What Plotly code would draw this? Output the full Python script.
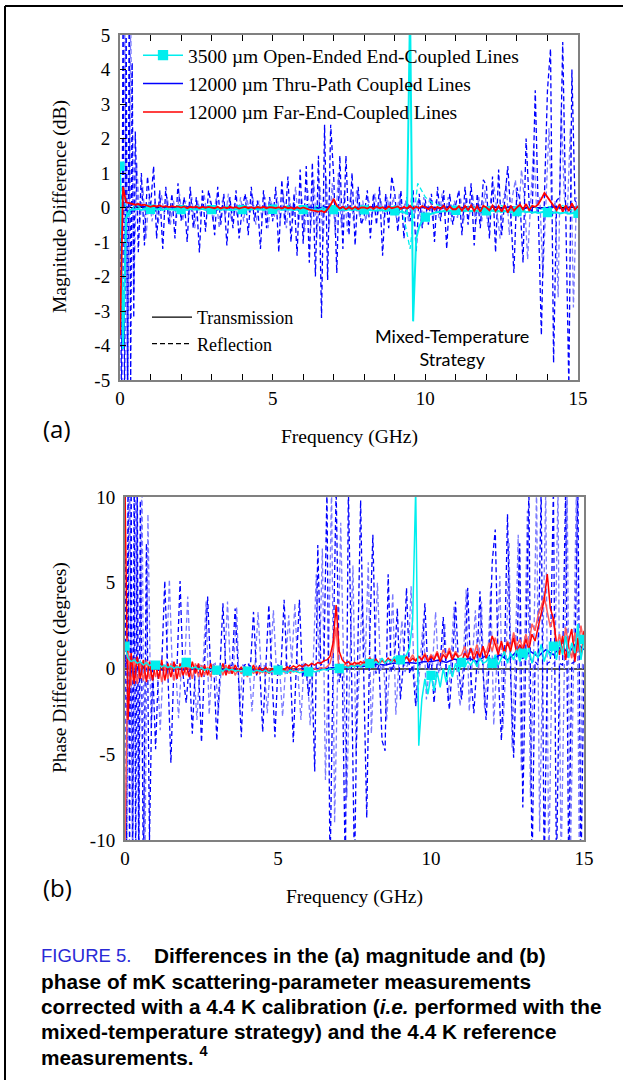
import numpy as np
import plotly.graph_objects as go

# ================= DATA =================
# ---- Panel (a): magnitude difference (dB) ----
# dark-blue reflection, dense low-frequency part (0 .. 0.45 GHz, step 0.05)
A_BLUE_R1_LO = [1.2, -6, 6, -6, 6, -6, 6, -5, 4.2, -3.2]
# dark-blue reflection (0.5 .. 15.0 GHz, step 0.1)
A_BLUE_R1 = [2.2, -1.3, 1.0, -1.1, 0.9, 0.0, 1.2, -0.9, 0.5, -1.2,
             0.6, -0.5, 0.4, -0.9, 0.7, -0.38, 0.3, -1.0, 0.6, -0.6,
             0.3, -1.3, 0.5, -0.7, 0.5, 0.05, -0.8, 0.6, -0.5, 0.4,
             -1.1, 0.3, -0.6, 0.5, -0.9, -0.05, 0.4, -0.8, 0.6, -0.4,
             0.2, -1.2, 0.5, -0.6, 0.3, -0.4, 0.6, -1.3, 0.8, -0.5,
             0.9, -1.0, 0.4, -1.4, 1.1, -1.05, 1.2, -1.6, 1.3, -2.0,
             1.5, -3.2, 2.4, -2.1, 2.4, 0.88, -1.9, 1.5, -1.2, 1.5,
             -0.8, 1.0, -1.1, 0.6, -0.5, -0.23, 0.5, -0.9, 0.4, -0.5,
             0.6, -1.4, 0.4, -0.6, 0.9, 0.4, -0.7, 0.5, -0.9, 0.3,
             -0.4, 0.5, -1.3, 0.4, -0.6, 0.23, -0.5, 0.4, -1.0, 0.6,
             -0.4, 0.5, -1.2, 0.4, -0.5, 0.1, 0.5, -0.8, 0.6, -0.5,
             0.7, -1.1, 0.4, -0.6, 0.8, 0.64, -0.9, 0.9, -1.3, 1.1,
             -0.8, 0.3, 1.2, -0.2, -1.9, 0.58, 0.2, -1.6, 2.0, 0.1,
             -0.2, 3.4, -0.3, -3.7, 0.3, 3.4, 4.6, -4.5, 0.2, 0.3,
             4.8, -0.3, -5.2, 4.0, 0.2, 0.1]
# light-blue reflection (0.05 .. 14.95 GHz, step 0.1)
A_BLUE_R2 = [-6, 6, -6, 5.5, -2.5, 1.3, -0.5, 0.6, -0.9, 0.3,
             -0.4, 0.2, -0.5, 0.4, -0.2, 0.3, -0.5, 0.2, -0.3, 0.4,
             -0.4, 0.2, -0.3, 0.3, -0.6, 0.2, -0.3, 0.4, -0.2, 0.2,
             -0.4, 0.3, -0.6, 0.2, -0.3, 0.4, -0.4, 0.1, -0.3, 0.3,
             -0.4, 0.3, -0.2, 0.3, -0.5, 0.2, -0.3, 0.3, -0.6, 0.2,
             -0.3, 0.3, -0.4, 0.4, -0.6, 0.3, -0.4, 0.6, -0.5, 0.3,
             -0.7, 0.5, -0.6, 0.8, -0.9, 0.6, -1.0, 0.9, -0.6, 0.7,
             -0.8, 1.0, -0.6, 0.5, -0.7, 0.4, -0.4, 0.5, -0.3, 0.2,
             -0.4, 0.2, -0.3, 0.4, -0.2, 0.2, -0.4, 0.3, -0.2, 0.3,
             -0.3, 0.4, -0.2, 0.2, -0.4, 0.3, -0.2, 0.2, -0.4, 0.3,
             -0.2, 0.3, -0.4, 0.2, -0.3, 0.4, -0.2, 0.3, -0.4, 0.2,
             -0.3, 0.3, -0.4, 0.3, -0.2, 0.4, -0.5, 0.3, -0.4, 0.5,
             -0.6, 0.3, 0.6, -0.2, -0.9, 0.2, 0.7, -0.8, 0.3, 0.8,
             -0.3, 1.1, 0.2, -1.5, 0.3, 1.8, -0.2, 0.3, -2.0, 0.2,
             2.3, -0.3, 0.2, -2.6, 2.9, 0.3, -0.2, 2.3, -2.9, 0.3]
# blue transmission (0 .. 15 GHz, step 0.25)
A_BLUE_T = [0.4, -0.15, 0.05, 0.02, 0.0, -0.02, 0.01, -0.01, 0.0, 0.02,
            -0.01, 0.01, 0.0, -0.02, 0.01, -0.01, 0.0, 0.01, -0.02, 0.01,
            0.0, -0.01, 0.02, -0.02, 0.0, 0.01, -0.02, 0.02, 0.0, -0.01,
            0.01, -0.02, 0.0, 0.02, -0.01, 0.01, 0.0, -0.02, 0.02, -0.01,
            0.0, 0.01, -0.03, 0.02, 0.0, -0.02, 0.03, -0.02, 0.0, 0.02,
            -0.03, 0.02, 0.0, -0.03, 0.03, -0.02, 0.0, 0.03, -0.04, 0.02, 0.0]
# red transmission (0 .. 15 GHz, step 0.1)
A_RED_T = [-3.7,
           0.6, 0.15, 0.12, 0.1, 0.08, 0.1, 0.06, 0.08, 0.05, 0.02,
           0.05, 0.03, 0.06, 0.02, 0.04, 0.01, 0.04, 0.02, 0.03, 0.0,
           0.03, -0.02, 0.02, 0.0, 0.03, -0.02, 0.02, -0.01, 0.02, 0.0,
           -0.02, 0.02, -0.03, 0.01, -0.02, 0.02, -0.01, 0.01, -0.03, 0.0,
           0.02, -0.02, 0.01, -0.03, 0.02, -0.01, 0.02, -0.02, 0.01, 0.0,
           -0.02, 0.01, -0.03, 0.02, -0.02, 0.0, -0.04, 0.01, -0.03, 0.0,
           -0.04, -0.06, -0.08, -0.1, -0.12, -0.1, -0.14, -0.05, 0.08, 0.25,
           0.05, -0.03, 0.02, -0.05, 0.01, -0.04, 0.02, -0.05, 0.0, 0.0,
           -0.03, 0.02, -0.04, 0.03, -0.02, 0.01, -0.05, 0.03, -0.02, 0.0,
           0.03, -0.04, 0.02, -0.03, 0.05, -0.04, 0.03, -0.02, 0.04, 0.0,
           -0.05, 0.03, -0.06, 0.02, -0.04, 0.05, -0.08, 0.03, -0.05, -0.05,
           0.04, -0.09, 0.05, -0.07, 0.06, -0.1, 0.04, -0.12, 0.05, 0.0,
           -0.08, 0.06, -0.1, 0.04, -0.12, 0.07, -0.15, 0.05, -0.1, 0.0,
           0.08, -0.06, 0.1, -0.08, 0.05, 0.02, 0.1, 0.25, 0.42, 0.3,
           0.18, 0.05, -0.08, 0.1, -0.12, 0.06, -0.1, 0.12, -0.06, 0.04]
# cyan transmission (0 .. 15 GHz, step 0.1)
A_CYAN_T = [1.2, -4.1, -0.3, -0.1, -0.05,
            -0.06, -0.04, -0.07, -0.05, -0.06, -0.05,
            -0.04, -0.06, -0.05, -0.07, -0.04, -0.06, -0.05, -0.08, -0.05, -0.06,
            -0.05, -0.07, -0.04, -0.06, -0.05, -0.06, -0.04, -0.07, -0.05, -0.06,
            -0.05, -0.04, -0.07, -0.05, -0.06, -0.05, -0.08, -0.05, -0.04, -0.06,
            -0.07, -0.05, -0.06, -0.04, -0.06, -0.05, -0.07, -0.05, -0.06, -0.05,
            -0.06, -0.04, -0.07, -0.05, -0.06, -0.05, -0.07, -0.06, -0.05, -0.06,
            -0.07, -0.05, -0.08, -0.06, -0.07, -0.05, -0.08, -0.06, -0.07, -0.06,
            -0.05, -0.07, -0.06, -0.08, -0.05, -0.07, -0.06, -0.08, -0.06, -0.07,
            -0.06, -0.08, -0.07, -0.09, -0.07, -0.08, -0.1, -0.08, -0.09, -0.1,
            -0.11, -0.12, -0.14, -0.18, 5.8, -3.3, -0.9, -0.55, -0.38, -0.28,
            -0.22, -0.18, -0.15, -0.13, -0.12, -0.1, -0.11, -0.09, -0.1, -0.08,
            -0.09, -0.08, -0.1, -0.09, -0.11, -0.08, -0.1, -0.12, -0.09, -0.1,
            -0.11, -0.09, -0.12, -0.1, -0.13, -0.1, -0.12, -0.14, -0.11, -0.12,
            -0.13, -0.11, -0.14, -0.12, -0.15, -0.13, -0.16, -0.14, -0.12, -0.15,
            -0.14, -0.16, -0.13, -0.17, -0.15, -0.14, -0.18, -0.16, -0.15, -0.17]
# cyan reflection (0 .. 15 GHz, step 0.25)
A_CYAN_R = [0.8, -0.3, 0.1, -0.05, 0.05, -0.04, 0.03, -0.05, 0.04, -0.03,
            0.05, -0.04, 0.03, -0.05, 0.04, -0.03, 0.05, -0.06, 0.04, -0.05,
            0.03, -0.04, 0.05, -0.06, 0.04, -0.05, 0.06, -0.04, 0.05, -0.06,
            0.04, -0.05, 0.05, -0.07, 0.04, -0.06, 0.05, -0.08, -1.2, 0.7,
            0.3, 0.12, 0.05, -0.06, 0.04, -0.07, 0.05, -0.06, 0.04, -0.08,
            0.06, -0.07, 0.05, -0.09, 0.06, -0.08, 0.05, -0.1, 0.06, -0.09, 0.05]

# ---- Panel (b): phase difference (degrees) ----
B_BLUE_R1_LO = [12, -12, 12, -12, 12, -12, 12, -12, 12, -12]
B_BLUE_R1 = [9.8, -12, 7.3, -10, 0.4,
             -4.7, 0.3, 0.2, 5.1, -0.3,
             -5.5, 0.3, 0.1, 5.1, -0.4,
             -2.0, 0.3, -3.8, 0.2, 0.1,
             -4.3, 0.3, 4.2, -0.2, 0.2,
             -4.2, 0.3, 3.8, -0.3, 0.1,
             0.2, 3.5, -0.2, -4.0, 0.2,
             0.3, 0.1, 3.3, -0.4, 0.2,
             -3.7, 0.3, 3.7, -0.3, -4.0,
             0.2, 0.1, 4.0, -0.3, 0.2,
             -4.3, 0.2, 4.0, -0.5, 0.3,
             -1.6, 0.3, -6.0, 7.2, 0.2,
             0.3, 10.5, -12, 0.4, 10.5,
             -0.8, 0.2, -12, 10.5, 0.3,
             -12, 0.3, 9.8, -0.2, -8.7,
             2.0, 7.8, -0.3, 0.2, -4.2,
             -4.8, 5.5, -0.2, 0.3, 3.5,
             -1.8, 0.3, 4.7, -0.3, 0.2,
             -2.2, 0.3, 0.2, 3.8, -0.3,
             0.8, -2.0, 0.3, 0.2, 3.0,
             -0.3, -2.4, 0.3, 3.9, 0.2,
             -1.8, 0.3, 4.7, -0.4, -2.6,
             0.3, 4.5, -0.2, -3.0, 0.3,
             6.2, 8.1, -0.3, -4.2, 0.4,
             9.0, -0.3, -5.2, 0.4, 7.3,
             -8.1, 0.3, 10.5, -12, 0.4,
             0.2, 10.5, -12, 0.3, 0.4,
             10.5, -12, 0.3, 0.2, 10.5,
             -12, 0.3, 0.4, 10.5, -12,
             0.3]
B_BLUE_R2 = [-12, 12, -12, 12, -12,
             12, -12, 9.0, -3.5, 0.3,
             0.2, -3.6, 0.2, 0.1, 5.2,
             -0.3, 0.2, -2.9, 0.3, 0.2,
             4.2, -0.2, 0.1, -3.0, 0.2,
             0.1, 3.9, -2.7, 0.2, 0.3,
             -2.6, 0.2, 0.1, 3.9, -0.3,
             0.2, 3.6, -2.4, 0.2, 0.1,
             0.3, -2.5, 0.2, 3.3, -0.2,
             0.2, -2.6, 0.3, 3.4, -0.2,
             0.1, -2.8, 0.2, 3.1, 0.3,
             3.8, -0.2, -3.0, 0.3, 0.2,
             -3.3, 0.3, 5.5, -0.3, 7.0,
             -6.5, 0.3, 10.5, -9.0, 0.3,
             8.5, -0.3, -7.5, 0.3, 6.0,
             -5.0, 0.2, 4.3, 0.3, 6.2,
             -3.8, 0.3, 5.0, -0.2, 0.3,
             -3.0, 0.2, 4.4, -2.7, 0.3,
             2.8, -0.2, 0.3, 4.8, -0.3,
             -2.0, 0.2, 2.9, -1.8, 0.3,
             0.2, 3.3, -0.3, 0.2, 2.6,
             -1.9, 0.3, 3.6, -0.2, -2.2,
             0.2, 4.6, -2.5, 0.3, 3.4,
             -0.3, 3.9, -2.4, 0.2, 4.8,
             -3.3, 0.3, 5.4, -3.5, 0.3,
             7.4, -4.6, 0.3, 7.8, -6.0,
             0.3, 9.2, -7.5, 0.4, 10.5,
             -9.5, 0.3, 10.5, -12, 0.2,
             0.4, 10.5, -12, 0.3, 10.5,
             -12, 0.2, 10.5, -12, 0.3]
B_BLUE_T = [0.5, -0.3, 0.2, -0.1, 0.0, -0.1, 0.05, -0.05, 0.0, -0.05,
            0.05, -0.05, 0.0, -0.05, 0.0, -0.05, -0.05, -0.1, -0.05, -0.1,
            -0.1, -0.05, -0.1, -0.05, -0.05, 0.0, -0.05, 0.05, 0.05, 0.1,
            0.15, 0.1, 0.2, 0.25, 0.2, 0.3, 0.3, 0.35, 0.3, 0.4,
            0.4, 0.5, 0.35, 0.55, 0.45, 0.6, 0.4, 0.7, 0.5, 0.8,
            0.5, 0.9, 0.6, 1.0, 0.7, 1.1, 0.8, 1.3, 0.9, 1.5, 1.1]
B_RED_T1 = [10.5,
            -3.0, 0.9, -0.9, 0.7, -0.6, 0.5, -0.8, 0.4, -0.7, 0.3,
            -0.6, 0.5, -0.7, 0.3, -0.5, 0.4, -0.6, 0.3, -0.4, 0.2,
            -0.5, 0.4, -0.3, 0.3, -0.5, 0.2, -0.4, 0.3, -0.3, 0.1,
            -0.3, 0.3, -0.4, 0.2, -0.3, 0.2, -0.2, 0.1, -0.3, 0.0,
            -0.2, 0.2, -0.3, 0.1, -0.2, 0.1, -0.3, 0.0, -0.1, 0.0,
            0.05, -0.1, 0.1, 0.0, 0.15, 0.05, 0.2, 0.1, 0.25, 0.15,
            0.3, 0.2, 0.35, 0.3, 0.45, 0.5, 0.7, 1.5, 3.7, 1.0,
            0.5, 0.3, 0.4, 0.2, 0.35, 0.25, 0.4, 0.3, 0.45, 0.6,
            0.4, 0.55, 0.3, 0.5, 0.35, 0.6, 0.4, 0.5, 0.3, 0.6,
            0.5, 0.7, 0.4, 0.6, 0.45, 0.7, 0.5, 0.8, 0.4, 0.7,
            0.5, 0.9, 0.4, 0.8, 0.6, 1.0, 0.5, 0.9, 0.6, 0.35,
            0.9, 0.6, 1.2, 0.5, 1.0, 0.7, 1.3, 0.6, 1.1, 1.9,
            1.4, 0.8, 1.6, 0.9, 1.5, 1.0, 1.8, 0.9, 1.4, 1.05,
            1.7, 1.1, 2.0, 1.6, 2.4, 3.2, 4.0, 5.5, 3.5, 2.9,
            1.5, 0.8, 1.9, 0.5, 1.6, 2.3, 0.4, 1.8, 0.6, 2.2]
B_RED_T2 = [-10.5,
            1.2, -1.0, 0.6, -0.9, 0.4, -0.7, 0.5, -0.6, 0.3, -0.5,
            0.4, -0.8, 0.2, -0.6, 0.3, -0.7, 0.2, -0.5, 0.3, -0.4,
            0.2, -0.6, 0.3, -0.5, 0.2, -0.4, 0.1, -0.5, 0.2, -0.35,
            0.1, -0.4, 0.2, -0.3, 0.1, -0.4, 0.0, -0.3, 0.1, -0.5,
            0.0, -0.3, 0.1, -0.3, -0.1, -0.3, 0.0, -0.2, -0.1, -0.35,
            -0.1, -0.2, 0.0, -0.25, -0.05, -0.2, 0.0, -0.15, -0.05, -0.35,
            -0.1, 0.0, -0.1, 0.05, 0.0, 0.1, 0.3, 1.0, 2.4, -0.3,
            0.1, 0.25, 0.1, 0.3, 0.15, 0.35, 0.2, 0.4, 0.3, 0.64,
            0.35, 0.5, 0.25, 0.45, 0.3, 0.55, 0.35, 0.6, 0.4, 0.64,
            0.4, 0.65, 0.5, 0.8, 0.45, 0.7, 0.55, 0.9, 0.5, 0.8,
            0.6, 1.0, 0.5, 1.1, 0.7, 1.2, 0.6, 1.0, 0.7, 0.8,
            1.3, 0.7, 1.1, 0.8, 1.4, 0.6, 1.2, 0.9, 1.5, 1.0,
            1.8, 1.1, 1.4, 0.8, 1.6, 1.2, 2.1, 1.3, 1.7, 1.2,
            2.0, 1.4, 2.6, 2.2, 3.1, 3.6, 4.2, 3.3, 2.4, 3.0,
            1.2, 2.0, 0.9, 2.4, 1.3, 0.6, 2.1, 1.0, 2.5, 1.4]
B_CYAN_T = [1.3,
            0.6, 0.4, 0.5, 0.3, 0.4, 0.2, 0.35, 0.15, 0.3, 0.2,
            0.25, 0.1, 0.2, 0.05, 0.15, 0.0, 0.1, 0.05, 0.2, 0.35,
            0.1, 0.0, 0.1, -0.05, 0.05, -0.1, 0.0, -0.1, 0.05, -0.1,
            -0.05, -0.15, 0.0, -0.1, -0.05, -0.15, -0.1, -0.2, -0.05, -0.15,
            -0.1, -0.2, -0.1, -0.15, -0.2, -0.1, -0.25, -0.15, -0.2, -0.1,
            -0.2, -0.15, -0.25, -0.1, -0.2, -0.15, -0.25, -0.2, -0.15, -0.2,
            -0.1, -0.2, -0.15, -0.1, -0.05, -0.1, 0.0, -0.05, 0.05, 0.0,
            0.05, 0.1, 0.05, 0.15, 0.1, 0.2, 0.1, 0.25, 0.15, 0.3,
            0.2, 0.4, 0.25, 0.6, 0.3, 0.5, 0.35, 0.7, 0.4, 0.5,
            0.6, 0.8, 1.2, 2.8, 10.5, -4.5, -1.8, -0.6, -1.5, -0.4,
            -1.3, -0.2, -1.1, 0.0, -0.8, 0.2, -0.5, 0.3, -0.2, 0.35,
            0.1, 0.4, 0.2, 0.5, 0.1, 0.6, 0.3, 0.4, 0.7, 0.3,
            0.8, 0.2, 0.6, 1.0, 0.3, 0.9, 0.5, 1.1, 0.4, 0.9,
            0.5, 1.2, 0.3, 1.0, 0.6, 1.4, 0.4, 1.1, 0.7, 1.3,
            0.5, 1.6, 0.8, 1.9, 0.6, 1.5, 0.9, 2.6, 0.5, 1.7]

X_MAJOR_TICKS = [0, 5, 10, 15]
X_MAJOR_LABELS = ["0", "5", "10", "15"]
X_MINOR_TICKS = list(range(0, 16))
YA_TICKS = list(range(-5, 6))
YA_TICK_LABELS = ["-5", "-4", "-3", "-2", "-1", "0", "1", "2", "3", "4", "5"]
YB_TICKS = [-10, -5, 0, 5, 10]
YB_TICK_LABELS = ["-10", "-5", "0", "5", "10"]

LEGEND_NAMES = ["3500 µm Open-Ended End-Coupled Lines",
                "12000 µm Thru-Path Coupled Lines",
                "12000 µm Far-End-Coupled Lines"]
STYLE_NAMES = ["Transmission", "Reflection"]

# ================= HELPERS =================
W, H = 623, 1080


def grid(start, step, n):
    return np.round(start + step * np.arange(n), 3)


def px(x):
    return x / W


def py(y):
    return 1 - y / H


CYAN = "#00eeee"
BLUE = "#0000ff"
LBLUE = "#7a7aff"
RED = "#ff0000"
LRED = "#ff5c5c"
DASH = "5px,3px"
SERIF = "Liberation Serif"

fig = go.Figure()


def add_line(f, v, color, width, dash, axis, marker=None, mfill=None, msize=8):
    xa, ya = axis
    fig.add_trace(go.Scatter(x=f, y=v, mode="lines", line=dict(color=color, width=width, dash=dash),
                             xaxis=xa, yaxis=ya, showlegend=False, hoverinfo="skip"))
    if marker:
        f = np.asarray(f)
        v = np.asarray(v, dtype=float)
        m = np.abs(f - np.round(f)) < 1e-6
        fig.add_trace(go.Scatter(x=f[m], y=v[m], mode="markers",
                                 marker=dict(symbol=marker, size=msize, color=mfill if mfill else "rgba(0,0,0,0)",
                                             line=dict(color=color, width=1.3)),
                                 xaxis=xa, yaxis=ya, showlegend=False, hoverinfo="skip"))


# ---------- panel (a) ----------
AX_A = ("x", "y")
add_line(grid(0.05, 0.1, len(A_BLUE_R2)), A_BLUE_R2, LBLUE, 1.3, DASH, AX_A)
fa = np.concatenate([grid(0, 0.05, len(A_BLUE_R1_LO)), grid(0.5, 0.1, len(A_BLUE_R1))])
add_line(fa, A_BLUE_R1_LO + A_BLUE_R1, BLUE, 1.3, DASH, AX_A, marker="circle-open", msize=7)
add_line(grid(0, 0.25, len(A_BLUE_T)), A_BLUE_T, BLUE, 1.5, None, AX_A, marker="circle-open", msize=7)
add_line(grid(0, 0.25, len(A_CYAN_R)), A_CYAN_R, CYAN, 1.3, DASH, AX_A)
add_line(grid(0, 0.1, len(A_CYAN_T)), A_CYAN_T, CYAN, 2.0, None, AX_A, marker="square", mfill=CYAN, msize=8)
add_line(grid(0, 0.1, len(A_RED_T)), A_RED_T, RED, 1.8, None, AX_A, marker="square-open", msize=9)

# ---------- panel (b) ----------
AX_B = ("x2", "y2")
add_line(grid(0.05, 0.1, len(B_BLUE_R2)), B_BLUE_R2, LBLUE, 1.3, DASH, AX_B)
fb = np.concatenate([grid(0, 0.05, len(B_BLUE_R1_LO)), grid(0.5, 0.1, len(B_BLUE_R1))])
add_line(fb, B_BLUE_R1_LO + B_BLUE_R1, BLUE, 1.3, DASH, AX_B, marker="circle-open", msize=7)
add_line(grid(0, 0.25, len(B_BLUE_T)), B_BLUE_T, BLUE, 1.5, None, AX_B, marker="circle-open", msize=7)
add_line(grid(0, 0.1, len(B_RED_T2)), B_RED_T2, LRED, 1.5, None, AX_B, marker="square-open", msize=9)
add_line(grid(0, 0.1, len(B_RED_T1)), B_RED_T1, RED, 1.5, None, AX_B, marker="square-open", msize=9)
add_line(grid(0, 0.1, len(B_CYAN_T)), B_CYAN_T, CYAN, 1.5, None, AX_B, marker="square", mfill=CYAN, msize=8)

# ---------- legends ----------
for name, col, sym, fill in zip(LEGEND_NAMES, [CYAN, BLUE, RED],
                                ["square", "circle-open", "square-open"], [CYAN, None, None]):
    fig.add_trace(go.Scatter(x=[None], y=[None], mode="lines+markers", name=name,
                             line=dict(color=col, width=1.5),
                             marker=dict(symbol=sym, size=9, color=fill if fill else "rgba(0,0,0,0)",
                                         line=dict(color=col, width=1.3)),
                             legend="legend", hoverinfo="skip"))
for name, dash in zip(STYLE_NAMES, [None, DASH]):
    fig.add_trace(go.Scatter(x=[None], y=[None], mode="lines", name=name,
                             line=dict(color="black", width=1.3, dash=dash),
                             legend="legend2", hoverinfo="skip"))

# ---------- axes ----------
tickfont = dict(family=SERIF, size=19, color="black")
common_box = dict(showline=True, linecolor="#808080", linewidth=2, showgrid=False, automargin=False)
fig.update_layout(
    template="none",
    xaxis=dict(domain=[px(120), px(578)], range=[0, 15], anchor="y",
               tickvals=X_MAJOR_TICKS, ticktext=X_MAJOR_LABELS, ticks="inside", ticklen=6,
               tickcolor="black", mirror="ticks", zeroline=False, tickfont=tickfont,
               minor=dict(tickvals=X_MINOR_TICKS, ticks="inside", ticklen=6, tickcolor="black",
                          showgrid=False),
               **common_box),
    yaxis=dict(domain=[py(380), py(35)], range=[-5, 5], anchor="x",
               tickvals=YA_TICKS, ticktext=YA_TICK_LABELS, ticks="inside", ticklen=6, tickcolor="black",
               ticklabelstandoff=4,
               mirror=True, zeroline=True, zerolinecolor="black", zerolinewidth=1,
               tickfont=tickfont, **common_box),
    xaxis2=dict(domain=[px(125), px(584)], range=[0, 15], anchor="y2",
                tickvals=X_MAJOR_TICKS, ticktext=X_MAJOR_LABELS, ticks="", mirror=True, zeroline=False,
                tickfont=tickfont, **common_box),
    yaxis2=dict(domain=[py(840), py(497)], range=[-10, 10], anchor="x2",
                tickvals=YB_TICKS, ticktext=YB_TICK_LABELS, ticks="", mirror=True, zeroline=True,
                ticklabelstandoff=4,
                zerolinecolor="#555555", zerolinewidth=1.5, tickfont=tickfont, **common_box),
)

fig.update_layout(
    width=W, height=H, margin=dict(l=0, r=0, t=0, b=0, pad=0), autosize=False,
    paper_bgcolor="white", plot_bgcolor="white",
    legend=dict(x=px(138), y=py(36), xanchor="left", yanchor="top",
                font=dict(family=SERIF, size=19.5, color="black"), bgcolor="rgba(0,0,0,0)",
                borderwidth=0, itemwidth=40, tracegroupgap=0),
    legend2=dict(x=px(147), y=py(299), xanchor="left", yanchor="top",
                 font=dict(family=SERIF, size=18, color="black"), bgcolor="rgba(0,0,0,0)",
                 borderwidth=0, itemwidth=40, tracegroupgap=0),
)

# ---------- text ----------
ann = []


def text(x, y, s, size, family, color="black", xanchor="center", angle=0):
    ann.append(dict(x=px(x), y=py(y), xref="paper", yref="paper", text=s, showarrow=False,
                    xanchor=xanchor, yanchor="middle", textangle=angle,
                    font=dict(family=family, size=size, color=color)))


text(349, 437, "Frequency (GHz)", 19.5, SERIF)
text(354, 897, "Frequency (GHz)", 19.5, SERIF)
text(60, 207, "Magnitude Difference (dB)", 19.5, SERIF, angle=-90)
text(60, 668, "Phase Difference (degrees)", 19.5, SERIF, angle=-90)
text(57, 428, "(a)", 24, "Open Sans")
text(57, 887, "(b)", 24, "Open Sans")
text(452, 347, "Mixed-Temperature<br>Strategy", 18, "Lato")

CAP = "Liberation Sans"
text(39, 955, "FIGURE 5.", 18.5, CAP, color="#2a2ad6", xanchor="left")
text(152, 955, "<b>Differences in the (a) magnitude and (b)</b>", 20.8, CAP, xanchor="left")
text(39, 981, "<b>phase of mK scattering-parameter measurements</b>", 20.8, CAP, xanchor="left")
text(39, 1006, "<b>corrected with a 4.4 K calibration (<i>i.e.</i> performed with the</b>", 20.8, CAP, xanchor="left")
text(39, 1031, "<b>mixed-temperature strategy) and the 4.4 K reference</b>", 20.8, CAP, xanchor="left")
text(39, 1056, "<b>measurements. <sup>4</sup></b>", 20.8, CAP, xanchor="left")
fig.update_layout(annotations=ann)

# outer frame (top and left edges)
fig.update_layout(shapes=[
    dict(type="line", xref="paper", yref="paper", x0=px(5), x1=1, y0=py(6), y1=py(6),
         line=dict(color="black", width=2)),
    dict(type="line", xref="paper", yref="paper", x0=px(5), x1=px(5), y0=py(6), y1=0,
         line=dict(color="black", width=2)),
])

fig.write_html("out.html", config={"displayModeBar": False},
               post_script="document.body.style.margin='0px';")
